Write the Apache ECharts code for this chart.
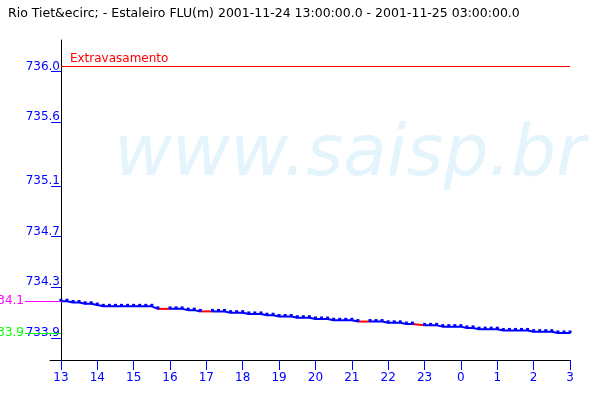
<!DOCTYPE html>
<html><head><meta charset="utf-8">
<script src="https://cdn.jsdelivr.net/npm/echarts@6/dist/echarts.min.js"></script>
<style>html,body{margin:0;padding:0;background:#fff}#c{width:600px;height:400px}</style>
</head><body><div id="c"></div>
<script>
const titleText = 'Rio Tiet&ecirc; - Estaleiro FLU(m) 2001-11-24 13:00:00.0 - 2001-11-25 03:00:00.0';
const startHour = 13;
const stepMinutes = 10;
const levels = [
  734.15, 734.15, 734.14, 734.14, 734.13, 734.13, 734.12,
  734.11, 734.11, 734.11, 734.11, 734.11, 734.11, 734.11, 734.11, 734.11,
  734.09, null, 734.09, 734.09, 734.09,
  734.08, 734.08,
  734.07, null, 734.07, 734.07, 734.07,
  734.06, 734.06, 734.06,
  734.05, 734.05, 734.05,
  734.04, 734.04,
  734.03, 734.03, 734.03,
  734.02, 734.02, 734.02,
  734.01, 734.01, 734.01,
  734.00, 734.00, 734.00, 734.00,
  733.99, null, 733.99, 733.99, 733.99,
  733.98, 733.98, 733.98,
  733.97, 733.97,
  null,
  733.96, 733.96, 733.96,
  733.95, 733.95, 733.95, 733.95,
  733.94, 733.94,
  733.93, 733.93, 733.93, 733.93,
  733.92, 733.92, 733.92, 733.92, 733.92,
  733.91, 733.91, 733.91, 733.91,
  733.90, 733.90, 733.90
];
const xTickHours = [13, 14, 15, 16, 17, 18, 19, 20, 21, 22, 23, 24, 25, 26, 27];
const yTickValues = [733.9, 734.3, 734.7, 735.1, 735.6, 736.0];
const limitValue = 736.0;
const limitLabel = 'Extravasamento';
const refValues = [734.15, 733.9];
const refLabels = ['734.1', '733.9'];
const watermarkText = 'www.saisp.br';

const FONT = 'DejaVu Sans';
const BLUE = '#0000ff';
const refColors = ['#ff00ff', '#00ff00'];
const yMin = 733.687, yMax = 736.209;

const pts = levels.map((v, i) => [startHour + i * stepMinutes / 60, v]);
const gapSeries = [];
levels.forEach((v, i) => {
  if (v === null && i > 0 && i < levels.length - 1) {
    gapSeries.push({
      type: 'line', xAxisIndex: 0, yAxisIndex: 0, symbol: 'none', silent: true,
      lineStyle: { color: '#ff0000', width: 2 }, z: 3,
      data: [pts[i - 1], pts[i + 1]]
    });
  }
});

const chart = echarts.init(document.getElementById('c'));
chart.setOption({
  animation: false,
  backgroundColor: '#ffffff',
  title: {
    text: titleText, left: 3, top: 2,
    textStyle: { fontFamily: FONT, fontSize: 12.5, fontWeight: 'normal', color: '#000' }
  },
  graphic: [{
    type: 'text', left: 114, top: 121, z: -10, silent: true,
    style: { text: watermarkText, font: 'italic 71px "DejaVu Sans"', fill: '#e3f4fc' }
  }],
  grid: [
    { left: 50, right: 30, top: 40, bottom: 40 },
    { left: 25, width: 36, top: 40, bottom: 40 }
  ],
  xAxis: [{
    type: 'value', gridIndex: 0, min: 12.7, max: 27,
    axisLine: { show: true, lineStyle: { color: '#000', width: 1 } },
    splitLine: { show: false },
    axisTick: { show: true, customValues: xTickHours, length: 10, lineStyle: { color: BLUE } },
    axisLabel: {
      customValues: xTickHours, color: BLUE, fontFamily: FONT, fontSize: 12, margin: 12,
      formatter: v => String(Math.round(v) % 24)
    }
  }, {
    type: 'value', gridIndex: 1, min: 0, max: 1, show: false
  }],
  yAxis: [{
    type: 'value', gridIndex: 0, min: yMin, max: yMax, offset: -11,
    axisLine: { show: true, lineStyle: { color: '#000', width: 1 } },
    splitLine: { show: false },
    axisTick: { show: true, customValues: yTickValues.map(v => v - 0.04), length: 10, lineStyle: { color: BLUE } },
    axisLabel: {
      customValues: yTickValues, color: BLUE, fontFamily: FONT, fontSize: 12, margin: 1,
      formatter: v => v.toFixed(1)
    }
  }, {
    type: 'value', gridIndex: 1, min: yMin, max: yMax, show: false
  }],
  series: [{
    type: 'line', xAxisIndex: 0, yAxisIndex: 0, data: pts, connectNulls: false,
    symbol: 'rect', symbolSize: [3, 3], symbolOffset: [0, -1], showAllSymbol: true,
    itemStyle: { color: BLUE }, lineStyle: { color: BLUE, width: 2 }, z: 4,
    markLine: {
      silent: true, symbol: 'none', animation: false,
      lineStyle: { color: '#ff0000', width: 1, type: 'solid' },
      label: {
        position: 'insideStartTop', formatter: limitLabel, color: '#ff0000',
        fontFamily: FONT, fontSize: 12, distance: [9, 2]
      },
      data: [[{ coord: [xTickHours[0], limitValue] }, { coord: [xTickHours[xTickHours.length - 1], limitValue] }]]
    }
  }, {
    type: 'line', xAxisIndex: 1, yAxisIndex: 1, data: [], silent: true,
    markLine: {
      silent: true, symbol: 'none', animation: false,
      label: { position: 'start', distance: 1, fontFamily: FONT, fontSize: 12 },
      data: refValues.map((v, i) => ({
        yAxis: v,
        lineStyle: { color: refColors[i], width: 1, type: 'solid' },
        label: { formatter: refLabels[i], color: refColors[i] }
      }))
    }
  }].concat(gapSeries)
});
</script></body></html>
